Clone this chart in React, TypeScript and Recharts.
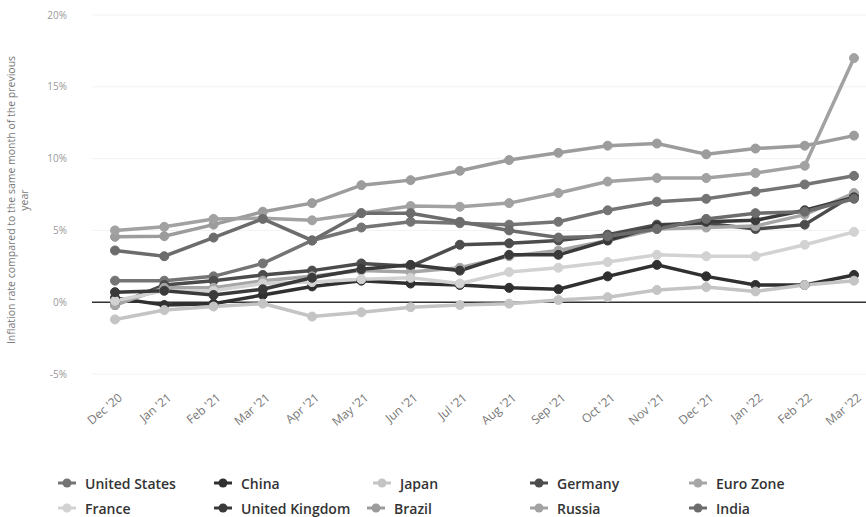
import React from "react";
import { LineChart, Line, XAxis, YAxis, CartesianGrid, ReferenceLine } from "recharts";

const months = [
  "Dec '20", "Jan '21", "Feb '21", "Mar '21", "Apr '21", "May '21", "Jun '21", "Jul '21",
  "Aug '21", "Sep '21", "Oct '21", "Nov '21", "Dec '21", "Jan '22", "Feb '22", "Mar '22",
];

const unitedStates = [1.5, 1.5, 1.8, 2.7, 4.3, 5.2, 5.6, 5.5, 5.4, 5.6, 6.4, 7.0, 7.2, 7.7, 8.2, 8.8];
const china = [0.3, -0.2, -0.1, 0.5, 1.1, 1.5, 1.3, 1.2, 1.0, 0.9, 1.8, 2.6, 1.8, 1.2, 1.2, 1.9];
const japan = [-1.2, -0.55, -0.3, -0.1, -1.0, -0.7, -0.35, -0.2, -0.1, 0.15, 0.35, 0.85, 1.05, 0.75, 1.2, 1.5];
const germany = [-0.2, 1.2, 1.5, 1.9, 2.2, 2.7, 2.5, 4.0, 4.1, 4.3, 4.7, 5.4, 5.5, 5.1, 5.4, 7.5];
const euroZone = [-0.2, 1.0, 1.0, 1.5, 1.8, 2.2, 2.1, 2.4, 3.2, 3.6, 4.3, 5.1, 5.2, 5.3, 6.1, 7.6];
const france = [0.1, 0.8, 0.8, 1.3, 1.4, 1.6, 1.7, 1.3, 2.1, 2.4, 2.8, 3.3, 3.2, 3.2, 4.0, 4.9];
const unitedKingdom = [0.7, 0.8, 0.5, 0.9, 1.7, 2.3, 2.6, 2.2, 3.3, 3.3, 4.3, 5.3, 5.6, 5.7, 6.4, 7.3];
const brazil = [4.55, 4.6, 5.4, 6.3, 6.9, 8.15, 8.5, 9.15, 9.9, 10.4, 10.9, 11.05, 10.3, 10.7, 10.9, 11.6];
const russia = [5.0, 5.25, 5.8, 5.85, 5.7, 6.2, 6.7, 6.65, 6.9, 7.6, 8.4, 8.65, 8.65, 9.0, 9.5, 17.0];
const india = [3.6, 3.2, 4.5, 5.8, 4.3, 6.2, 6.2, 5.6, 5.0, 4.5, 4.6, 5.1, 5.8, 6.2, 6.3, 7.2];

const yTicks = [-5, 0, 5, 10, 15, 20];

const series = [
  { key: "us", name: "United States", color: "#747474", values: unitedStates },
  { key: "cn", name: "China", color: "#303030", values: china },
  { key: "jp", name: "Japan", color: "#c4c4c4", values: japan },
  { key: "de", name: "Germany", color: "#4c4c4c", values: germany },
  { key: "ez", name: "Euro Zone", color: "#a6a6a6", values: euroZone },
  { key: "fr", name: "France", color: "#d2d2d2", values: france },
  { key: "uk", name: "United Kingdom", color: "#3a3a3a", values: unitedKingdom },
  { key: "br", name: "Brazil", color: "#9c9c9c", values: brazil },
  { key: "ru", name: "Russia", color: "#a2a2a2", values: russia },
  { key: "in", name: "India", color: "#6c6c6c", values: india },
];

const data = months.map((m, i) => {
  const row: any = { month: m };
  series.forEach((s) => (row[s.key] = s.values[i]));
  return row;
});

// legend slots, row-major like the reference
const legendPos = [
  [58, 483], [214, 483], [373, 483], [530, 483], [689, 483],
  [58, 508], [214, 508], [367, 508], [530, 508], [689, 508],
];

const font = "'Open Sans', sans-serif";

function MonthTick({ x, y, payload }: any) {
  const tx = x + 8;
  const ty = y + 17;
  return (
    <text x={tx} y={ty} transform={`rotate(-40 ${tx} ${ty})`} textAnchor="end" fontSize={12} fill="#777" fontFamily={font}>
      {payload.value}
    </text>
  );
}

function PctTick({ x, y, payload }: any) {
  return (
    <text x={67} y={y} dy={3.5} textAnchor="end" fontSize={10} fill="#999" fontFamily={font}>
      {payload.value}%
    </text>
  );
}

export default function App() {
  return (
    <div style={{ position: "absolute", left: 0, top: 0, width: 866, height: 517, background: "#fff" }}>
      <LineChart width={866} height={460} data={data} margin={{ top: 15, right: 0, bottom: 0, left: 0 }}>
        <CartesianGrid vertical={false} stroke="#f2f2f2" />
        <XAxis dataKey="month" interval={0} tick={<MonthTick />} tickLine={false} axisLine={false} height={86} padding={{ left: 23, right: 12 }} />
        <YAxis domain={[-5, 20]} ticks={yTicks} tick={<PctTick />} tickLine={false} axisLine={false} width={92} />
        <ReferenceLine y={0} stroke="#333" strokeWidth={1.5} />
        {series.map((s) => (
          <Line
            key={s.key}
            type="linear"
            dataKey={s.key}
            name={s.name}
            stroke={s.color}
            strokeWidth={3.5}
            dot={{ r: 4.5, fill: s.color, stroke: s.color, strokeWidth: 1 }}
            isAnimationActive={false}
          />
        ))}
      </LineChart>
      <svg width={40} height={400} style={{ position: "absolute", left: 0, top: 0 }}>
        <text transform="translate(15 200) rotate(-90)" textAnchor="middle" fontSize={10.5} fill="#777" fontFamily={font}>
          Inflation rate compared to the same month of the previous
        </text>
        <text transform="translate(28 200) rotate(-90)" textAnchor="middle" fontSize={10.5} fill="#777" fontFamily={font}>
          year
        </text>
      </svg>
      {series.map((s, i) => (
        <div
          key={s.key}
          style={{
            position: "absolute",
            left: legendPos[i][0],
            top: legendPos[i][1] - 10,
            height: 20,
            display: "flex",
            alignItems: "center",
            fontFamily: font,
            fontSize: 14,
            fontWeight: 600,
            color: "#333",
            whiteSpace: "nowrap",
          }}
        >
          <svg width={22} height={12} style={{ marginRight: 5 }}>
            <line x1={0} y1={6} x2={18} y2={6} stroke={s.color} strokeWidth={3} />
            <circle cx={9} cy={6} r={4.5} fill={s.color} />
          </svg>
          {s.name}
        </div>
      ))}
    </div>
  );
}
